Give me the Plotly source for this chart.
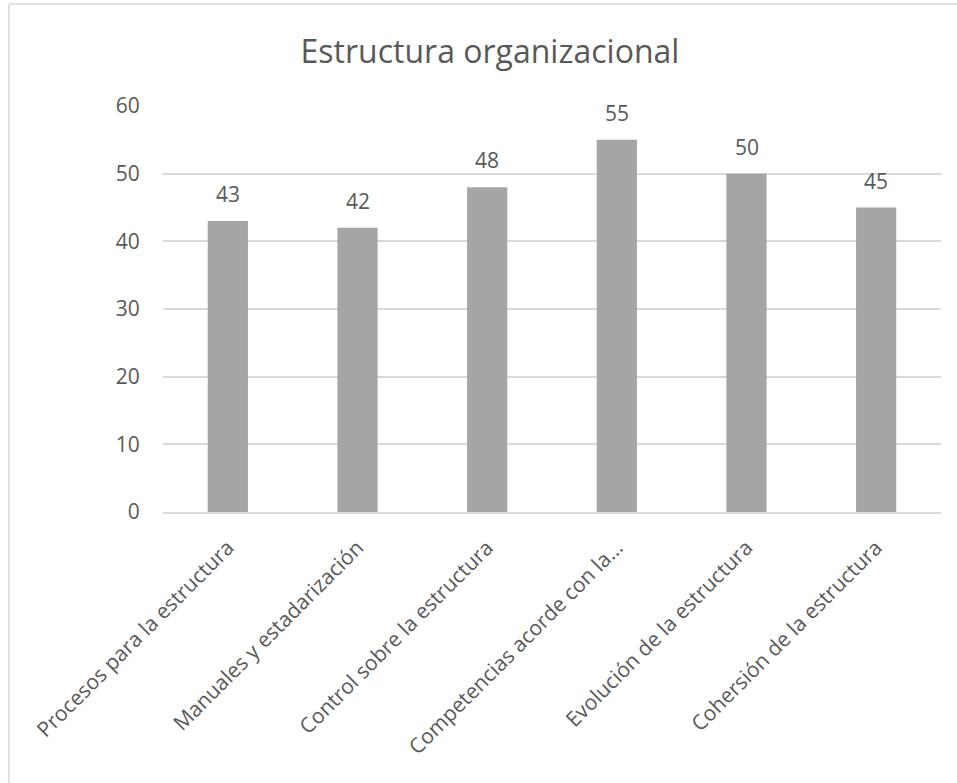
import plotly.graph_objects as go

categories = [
    "Procesos para la estructura",
    "Manuales y estadarización",
    "Control sobre la estructura",
    "Competencias acorde con la...",
    "Evolución de la estructura",
    "Cohersión de la estructura",
]
values = [43, 42, 48, 55, 50, 45]
y_ticks = [0, 10, 20, 30, 40, 50, 60]
title_text = "Estructura organizacional"

TEXT = "#595959"
GRID = "#D9D9D9"
BAR = "#A5A5A5"
FONT = "Open Sans"

fig = go.Figure(
    go.Bar(
        x=categories,
        y=values,
        marker=dict(color=BAR, line=dict(width=0)),
        hoverinfo="x+y",
    )
)

# value labels above each bar
for c, v in zip(categories, values):
    fig.add_annotation(
        x=c, y=v, text=str(v), showarrow=False,
        yanchor="bottom", yshift=11,
        font=dict(family=FONT, size=21, color=TEXT),
    )

# chart-area frame (top and left edges)
fig.add_shape(type="line", xref="paper", yref="paper",
              x0=-0.198, x1=1.1, y0=1.251, y1=1.251,
              line=dict(color=GRID, width=1.5))
fig.add_shape(type="line", xref="paper", yref="paper",
              x0=-0.198, x1=-0.198, y0=1.251, y1=-0.8,
              line=dict(color=GRID, width=1.5))

fig.update_layout(
    width=957, height=783,
    margin=dict(l=163, r=16, t=106, b=271),
    paper_bgcolor="white",
    plot_bgcolor="white",
    showlegend=False,
    bargap=0.69,
    title=dict(
        text=title_text,
        x=0.512, xanchor="center",
        y=0.934, yanchor="middle",
        font=dict(family=FONT, size=32, color=TEXT),
    ),
    font=dict(family=FONT, color=TEXT),
)

fig.update_xaxes(
    tickangle=-45,
    tickfont=dict(family=FONT, size=21, color=TEXT),
    showline=True, linecolor=GRID, linewidth=2,
    ticks="outside", ticklen=13, tickcolor="rgba(0,0,0,0)",
    showgrid=False,
)
fig.update_yaxes(
    range=[0, 60],
    tickvals=y_ticks,
    tickfont=dict(family=FONT, size=21, color=TEXT),
    showgrid=True, gridcolor=GRID, gridwidth=1.5,
    zeroline=False, showline=False,
    ticks="outside", ticklen=18, tickcolor="rgba(0,0,0,0)",
)

fig.write_html("out.html")
